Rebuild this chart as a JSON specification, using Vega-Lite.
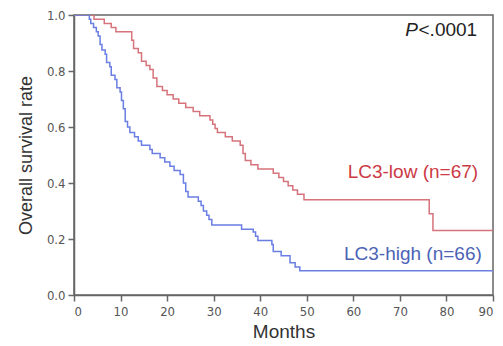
{
  "$schema": "https://vega.github.io/schema/vega-lite/v6.json",
  "width": 419,
  "height": 280,
  "autosize": {"type": "none"},
  "padding": {"left": 74, "top": 15, "right": 10, "bottom": 51},
  "background": "white",
  "config": {
    "view": {"stroke": "#666666", "strokeWidth": 1.5},
    "font": "Liberation Sans"
  },
  "datasets": {
    "curves": [
      {"group": "low", "month": 0, "surv": 1.0},
      {"group": "low", "month": 4.3, "surv": 0.985},
      {"group": "low", "month": 6.5, "surv": 0.97},
      {"group": "low", "month": 8.0, "surv": 0.955},
      {"group": "low", "month": 9.0, "surv": 0.94},
      {"group": "low", "month": 12.4, "surv": 0.91},
      {"group": "low", "month": 12.8, "surv": 0.88},
      {"group": "low", "month": 13.8, "surv": 0.865},
      {"group": "low", "month": 14.5, "surv": 0.835},
      {"group": "low", "month": 15.5, "surv": 0.82},
      {"group": "low", "month": 16.3, "surv": 0.805},
      {"group": "low", "month": 17.0, "surv": 0.775},
      {"group": "low", "month": 17.8, "surv": 0.745},
      {"group": "low", "month": 19.0, "surv": 0.73},
      {"group": "low", "month": 20.0, "surv": 0.715},
      {"group": "low", "month": 21.3, "surv": 0.7},
      {"group": "low", "month": 22.5, "surv": 0.685},
      {"group": "low", "month": 24.0, "surv": 0.67},
      {"group": "low", "month": 25.6, "surv": 0.655},
      {"group": "low", "month": 27.0, "surv": 0.64},
      {"group": "low", "month": 29.2, "surv": 0.625},
      {"group": "low", "month": 29.8, "surv": 0.61},
      {"group": "low", "month": 30.3, "surv": 0.595},
      {"group": "low", "month": 30.8, "surv": 0.58},
      {"group": "low", "month": 32.5, "surv": 0.565},
      {"group": "low", "month": 34.0, "surv": 0.55},
      {"group": "low", "month": 35.7, "surv": 0.535},
      {"group": "low", "month": 36.3, "surv": 0.505},
      {"group": "low", "month": 36.8, "surv": 0.48},
      {"group": "low", "month": 38.0, "surv": 0.465},
      {"group": "low", "month": 39.5, "surv": 0.45},
      {"group": "low", "month": 42.8, "surv": 0.435},
      {"group": "low", "month": 44.0, "surv": 0.42},
      {"group": "low", "month": 45.0, "surv": 0.405},
      {"group": "low", "month": 46.0, "surv": 0.39},
      {"group": "low", "month": 47.0, "surv": 0.375},
      {"group": "low", "month": 48.0, "surv": 0.36},
      {"group": "low", "month": 49.4, "surv": 0.34},
      {"group": "low", "month": 76.3, "surv": 0.29},
      {"group": "low", "month": 77.1, "surv": 0.23},
      {"group": "low", "month": 90, "surv": 0.23},
      {"group": "high", "month": 0, "surv": 1.0},
      {"group": "high", "month": 3.3, "surv": 0.985},
      {"group": "high", "month": 3.6, "surv": 0.97},
      {"group": "high", "month": 4.2, "surv": 0.955},
      {"group": "high", "month": 4.8, "surv": 0.94},
      {"group": "high", "month": 5.2, "surv": 0.925},
      {"group": "high", "month": 5.6, "surv": 0.895},
      {"group": "high", "month": 6.0, "surv": 0.875},
      {"group": "high", "month": 6.7, "surv": 0.86},
      {"group": "high", "month": 7.0, "surv": 0.83},
      {"group": "high", "month": 7.7, "surv": 0.815},
      {"group": "high", "month": 8.0, "surv": 0.785},
      {"group": "high", "month": 8.8, "surv": 0.77},
      {"group": "high", "month": 9.2, "surv": 0.74},
      {"group": "high", "month": 9.9, "surv": 0.725},
      {"group": "high", "month": 10.2, "surv": 0.695},
      {"group": "high", "month": 10.6, "surv": 0.665},
      {"group": "high", "month": 11.0, "surv": 0.62},
      {"group": "high", "month": 11.5, "surv": 0.6},
      {"group": "high", "month": 12.0, "surv": 0.58},
      {"group": "high", "month": 13.0, "surv": 0.565},
      {"group": "high", "month": 13.8, "surv": 0.55},
      {"group": "high", "month": 14.5, "surv": 0.535},
      {"group": "high", "month": 16.3, "surv": 0.52},
      {"group": "high", "month": 16.8, "surv": 0.505},
      {"group": "high", "month": 18.5, "surv": 0.49},
      {"group": "high", "month": 19.5, "surv": 0.475},
      {"group": "high", "month": 20.6, "surv": 0.46},
      {"group": "high", "month": 21.5, "surv": 0.445},
      {"group": "high", "month": 22.8, "surv": 0.43},
      {"group": "high", "month": 23.5, "surv": 0.4},
      {"group": "high", "month": 24.0, "surv": 0.37},
      {"group": "high", "month": 24.5, "surv": 0.35},
      {"group": "high", "month": 26.7, "surv": 0.335},
      {"group": "high", "month": 27.3, "surv": 0.32},
      {"group": "high", "month": 27.8, "surv": 0.3},
      {"group": "high", "month": 28.5, "surv": 0.285},
      {"group": "high", "month": 29.0, "surv": 0.27},
      {"group": "high", "month": 29.6, "surv": 0.25},
      {"group": "high", "month": 36.0, "surv": 0.235},
      {"group": "high", "month": 38.5, "surv": 0.225},
      {"group": "high", "month": 39.0, "surv": 0.21},
      {"group": "high", "month": 39.5, "surv": 0.195},
      {"group": "high", "month": 42.5, "surv": 0.18},
      {"group": "high", "month": 42.8, "surv": 0.155},
      {"group": "high", "month": 44.5, "surv": 0.14},
      {"group": "high", "month": 46.4, "surv": 0.115},
      {"group": "high", "month": 47.5, "surv": 0.1},
      {"group": "high", "month": 48.5, "surv": 0.087},
      {"group": "high", "month": 90, "surv": 0.087}
    ],
    "labels": [
      {"label": "LC3-low (n=67)", "group": "low", "month": 86.8, "surv": 0.44},
      {"label": "LC3-high (n=66)", "group": "high", "month": 87.6, "surv": 0.146}
    ],
    "pvalue": [
      {"part": "P", "month": 73.9, "surv": 0.945},
      {"part": "<.0001", "month": 86.6, "surv": 0.945}
    ]
  },
  "layer": [
    {
      "data": {"name": "curves"},
      "mark": {"type": "line", "interpolate": "step-after", "strokeWidth": 1.5, "clip": true},
      "encoding": {
        "x": {
          "field": "month", "type": "quantitative",
          "scale": {"domain": [0, 90], "nice": false, "zero": false},
          "axis": {
            "title": "Months",
            "values": [0,5,10,15,20,25,30,35,40,45,50,55,60,65,70,75,80,85,90],
            "labelExpr": "datum.value % 10 === 0 ? datum.label : ''",
            "tickSize": {"condition": {"test": "datum.value % 10 === 0", "value": 6}, "value": 3},
            "grid": false,
            "domainColor": "#666666", "domainWidth": 1.5,
            "tickColor": "#666666", "tickWidth": 1.5,
            "labelFontSize": 13, "labelColor": "#555555", "labelPadding": 4,
            "labelFont": "DejaVu Sans Condensed",
            "titleFontSize": 19, "titleFontWeight": "normal", "titleColor": "#333333", "titlePadding": 4
          }
        },
        "y": {
          "field": "surv", "type": "quantitative",
          "scale": {"domain": [0, 1], "nice": false},
          "axis": {
            "title": "Overall survival rate",
            "values": [0,0.1,0.2,0.3,0.4,0.5,0.6,0.7,0.8,0.9,1.0],
            "format": ".1f",
            "labelExpr": "round(datum.value*10) % 2 === 0 ? datum.label : ''",
            "tickSize": {"condition": {"test": "round(datum.value*10) % 2 === 0", "value": 6}, "value": 3},
            "grid": false,
            "domainColor": "#666666", "domainWidth": 1.5,
            "tickColor": "#666666", "tickWidth": 1.5,
            "labelFontSize": 13, "labelColor": "#555555", "labelPadding": 3,
            "labelFont": "DejaVu Sans Condensed",
            "titleFontSize": 18, "titleFontWeight": "normal", "titleColor": "#333333", "titlePadding": 11
          }
        },
        "color": {
          "field": "group", "type": "nominal",
          "scale": {"domain": ["low", "high"], "range": ["#d6737b", "#6a7ee3"]},
          "legend": null
        }
      }
    },
    {
      "data": {"name": "labels"},
      "mark": {"type": "text", "align": "right", "baseline": "middle", "fontSize": 19},
      "encoding": {
        "x": {"field": "month", "type": "quantitative"},
        "y": {"field": "surv", "type": "quantitative"},
        "text": {"field": "label"},
        "color": {
          "field": "group", "type": "nominal",
          "scale": {"domain": ["low", "high"], "range": ["#cc3a44", "#4c63b6"]},
          "legend": null
        }
      }
    },
    {
      "data": {"name": "pvalue"},
      "transform": [{"filter": "datum.part === 'P'"}],
      "mark": {"type": "text", "align": "right", "baseline": "middle", "fontSize": 19, "fontStyle": "italic", "color": "#222222"},
      "encoding": {
        "x": {"field": "month", "type": "quantitative"},
        "y": {"field": "surv", "type": "quantitative"},
        "text": {"field": "part"}
      }
    },
    {
      "data": {"name": "pvalue"},
      "transform": [{"filter": "datum.part !== 'P'"}],
      "mark": {"type": "text", "align": "right", "baseline": "middle", "fontSize": 19, "color": "#222222"},
      "encoding": {
        "x": {"field": "month", "type": "quantitative"},
        "y": {"field": "surv", "type": "quantitative"},
        "text": {"field": "part"}
      }
    }
  ],
  "resolve": {"scale": {"color": "independent"}}
}
